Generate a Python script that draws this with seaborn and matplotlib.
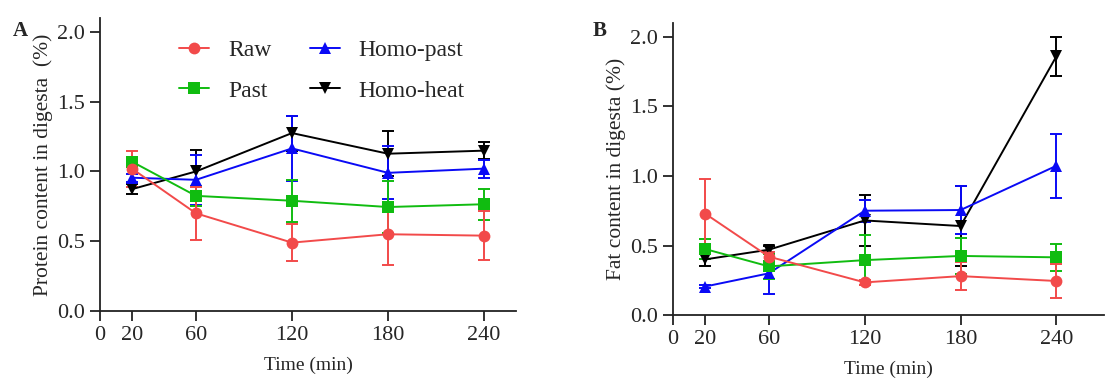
import numpy as np
import pandas as pd
import matplotlib
matplotlib.use("Agg")
import matplotlib.pyplot as plt
import seaborn as sns
from matplotlib.lines import Line2D

times = [20, 60, 120, 180, 240]
groups = ["Raw", "Past", "Homo-past", "Homo-heat"]

# Panel A: protein content (%)
prot_raw = [1.02, 0.70, 0.49, 0.55, 0.54]
prot_raw_err = [0.13, 0.19, 0.13, 0.22, 0.175]
prot_past = [1.07, 0.825, 0.79, 0.745, 0.765]
prot_past_err = [0.03, 0.07, 0.15, 0.185, 0.11]
prot_hpast = [0.955, 0.94, 1.165, 0.99, 1.02]
prot_hpast_err = [0.03, 0.18, 0.23, 0.19, 0.065]
prot_hheat = [0.873, 1.0, 1.275, 1.127, 1.149]
prot_hheat_err = [0.035, 0.155, 0.125, 0.16, 0.06]

# Panel B: fat content (%)
fat_raw = [0.73, 0.42, 0.235, 0.28, 0.245]
fat_raw_err = [0.25, 0.03, 0.02, 0.10, 0.12]
fat_past = [0.475, 0.35, 0.395, 0.425, 0.415]
fat_past_err = [0.075, 0.09, 0.18, 0.13, 0.095]
fat_hpast = [0.205, 0.30, 0.75, 0.755, 1.073]
fat_hpast_err = [0.01, 0.15, 0.08, 0.175, 0.23]
fat_hheat = [0.40, 0.47, 0.68, 0.64, 1.86]
fat_hheat_err = [0.05, 0.03, 0.185, 0.29, 0.14]

xticks = [0, 20, 60, 120, 180, 240]
yticks = [0.0, 0.5, 1.0, 1.5, 2.0]

colors = {"Raw": "#F24A4A", "Past": "#10BC10", "Homo-past": "#0A0AF5", "Homo-heat": "#000000"}
markers = {"Raw": "o", "Past": "s", "Homo-past": "^", "Homo-heat": "v"}

def make_df(vals, errs):
    rows = []
    for g, v, e in zip(groups, vals, errs):
        for t, vi, ei in zip(times, v, e):
            rows.append({"Time": t, "Value": vi, "Err": ei, "Group": g})
    return pd.DataFrame(rows)

dfA = make_df([prot_raw, prot_past, prot_hpast, prot_hheat],
              [prot_raw_err, prot_past_err, prot_hpast_err, prot_hheat_err])
dfB = make_df([fat_raw, fat_past, fat_hpast, fat_hheat],
              [fat_raw_err, fat_past_err, fat_hpast_err, fat_hheat_err])

sns.set_theme(style="ticks")
plt.rcParams["font.family"] = ["Liberation Serif", "DejaVu Serif"]

fig = plt.figure(figsize=(11.06, 3.81), dpi=100)
axA = fig.add_axes([0.0904, 0.1837, 0.3761, 0.7693])
axB = fig.add_axes([0.6085, 0.173, 0.390, 0.767])

draw_order = groups[::-1]

def draw(ax, df, ylabel, xmax):
    for i, g in enumerate(draw_order):
        sub = df[df.Group == g]
        ax.errorbar(sub.Time, sub.Value, yerr=sub.Err, fmt="none",
                    ecolor=colors[g], elinewidth=1.4, capsize=4.5, capthick=1.4,
                    zorder=2 + i * 0.01)
    sns.lineplot(data=df, x="Time", y="Value", hue="Group", style="Group",
                 hue_order=draw_order, style_order=draw_order,
                 palette=colors, markers=markers, dashes=False, markersize=8.5,
                 markeredgewidth=0, linewidth=1.4, ax=ax, legend=False, zorder=3)
    ax.set_xlim(0, xmax)
    ax.set_ylim(0, 2.1)
    ax.set_xticks(xticks)
    ax.set_yticks(yticks)
    ax.set_yticklabels([f"{y:.1f}" for y in yticks])
    ax.spines["top"].set_visible(False)
    ax.spines["right"].set_visible(False)
    for s in ["left", "bottom"]:
        ax.spines[s].set_linewidth(1.3)
        ax.spines[s].set_color("#222222")
    ax.tick_params(axis="both", direction="out", length=7, width=1.3, labelsize=16,
                   color="#222222", pad=4)
    ax.set_xlabel("Time (min)", fontsize=14, labelpad=8)
    ax.set_ylabel(ylabel, fontsize=15.5, labelpad=3)

draw(axA, dfA, "Protein content in digesta  (%)", 260)
draw(axB, dfB, "Fat content in digesta (%)", 270)

handles = [Line2D([], [], color=colors[g], marker=markers[g], markersize=8.5,
                  markeredgewidth=0, linewidth=1.4) for g in groups]
axA.legend(handles, groups, ncol=2, frameon=False, fontsize=17,
           loc="upper left", bbox_to_anchor=(0.14, 0.998),
           handlelength=1.25, columnspacing=1.65, labelspacing=0.8, handletextpad=0.8)

fig.text(0.012, 0.905, "A", fontsize=15, fontweight="bold")
fig.text(0.536, 0.905, "B", fontsize=15, fontweight="bold")

fig.savefig("out.png", dpi=100)
